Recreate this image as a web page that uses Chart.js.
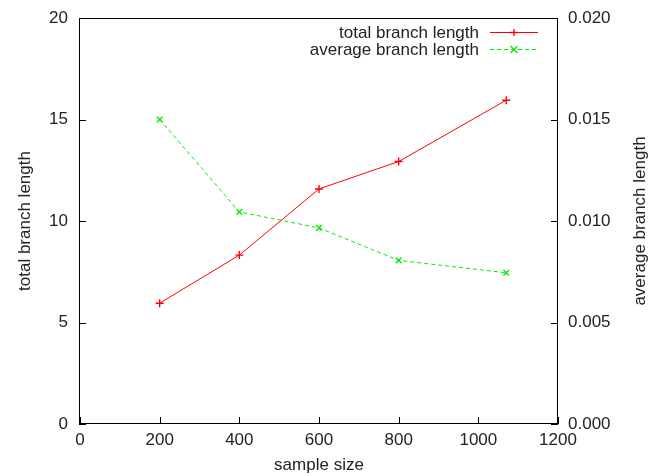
<!DOCTYPE html>
<html>
<head>
<meta charset="utf-8">
<script src="https://cdn.jsdelivr.net/npm/chart.js@4.4.1/dist/chart.umd.min.js"></script>
<style>
  body { margin: 0; background: #fff; }
  #box { position: relative; width: 650px; height: 476px; }
  #box canvas { position: absolute; left: 0; top: 0; }
  #frame { pointer-events: none; }
</style>
</head>
<body>
<div id="box">
  <canvas id="chart" width="650" height="476"></canvas>
  <canvas id="frame" width="650" height="476"></canvas>
</div>
<script>
// ===== data =====
const sampleSizes = [200, 400, 600, 800, 1070];
const totalLength = [5.95, 8.32, 11.58, 12.93, 15.95];
const avgLength = [0.0150, 0.01045, 0.00966, 0.00806, 0.00745];

const seriesNames = ['total branch length', 'average branch length'];
const seriesColors = ['#ff0000', '#00ee00'];

const xTicks = [0, 200, 400, 600, 800, 1000, 1200];
const yLeftTicks = [0, 5, 10, 15, 20];
const yRightTicks = [0, 0.005, 0.010, 0.015, 0.020];

const FONT = "'Liberation Sans', Arial, Helvetica, sans-serif";
const TEXT = '#222';
const tickFont = { family: FONT, size: 17 };

// ===== small drawing helpers =====
function marker(ctx, style, x, y, r) {
  ctx.beginPath();
  if (style === 'cross') {
    ctx.moveTo(x - r, y); ctx.lineTo(x + r, y);
    ctx.moveTo(x, y - r); ctx.lineTo(x, y + r);
  } else {
    ctx.moveTo(x - r, y - r); ctx.lineTo(x + r, y + r);
    ctx.moveTo(x - r, y + r); ctx.lineTo(x + r, y - r);
  }
  ctx.stroke();
}

// no padding from the scales: chart area is set by layout + afterFit
function noPad(s) {
  s.paddingTop = 0; s.paddingBottom = 0; s.paddingLeft = 0; s.paddingRight = 0;
}

// gnuplot style box with inward ticks, placed by the scales
function drawBox(ctx, scales) {
  const l = Math.round(scales.x.getPixelForValue(xTicks[0]));
  const r = Math.round(scales.x.getPixelForValue(xTicks[xTicks.length - 1]));
  const t = Math.round(scales.y.getPixelForValue(yLeftTicks[yLeftTicks.length - 1]));
  const b = Math.round(scales.y.getPixelForValue(yLeftTicks[0]));
  ctx.save();
  ctx.globalAlpha = 1;
  ctx.globalCompositeOperation = 'source-over';
  ctx.fillStyle = '#000';
  ctx.fillRect(l - 1, t, r - l + 1, 1);
  ctx.fillRect(l - 1, b - 1, r - l + 1, 1);
  ctx.fillRect(l - 1, t, 1, b - t);
  ctx.fillRect(r - 1, t, 1, b - t);
  yLeftTicks.forEach(v => {
    ctx.fillRect(l - 1, Math.round(scales.y.getPixelForValue(v)), 7, 1);
  });
  yRightTicks.forEach(v => {
    ctx.fillRect(r - 7, Math.round(scales.y2.getPixelForValue(v)), 7, 1);
  });
  xTicks.forEach(v => {
    ctx.fillRect(Math.round(scales.x.getPixelForValue(v)), b - 7, 1, 7);
  });
  ctx.restore();
}

new Chart(document.getElementById('chart'), {
  type: 'line',
  data: {
    datasets: [{
      label: seriesNames[0],
      data: sampleSizes.map((x, i) => ({ x: x, y: totalLength[i] })),
      yAxisID: 'y',
      borderColor: seriesColors[0],
      borderWidth: 1,
      pointStyle: 'cross',
      pointRadius: 4,
      pointBorderWidth: 1.4
    }, {
      label: seriesNames[1],
      data: sampleSizes.map((x, i) => ({ x: x, y: avgLength[i] })),
      yAxisID: 'y2',
      borderColor: seriesColors[1],
      borderWidth: 1,
      borderDash: [4, 3],
      pointStyle: 'crossRot',
      pointRadius: 4,
      pointBorderWidth: 1.4
    }]
  },
  options: {
    responsive: false,
    animation: false,
    layout: { padding: { top: 18 } },
    plugins: { legend: { display: false }, tooltip: { enabled: false } },
    scales: {
      x: {
        type: 'linear', min: 0, max: 1200,
        afterBuildTicks: s => { s.ticks = xTicks.map(v => ({ value: v })); },
        afterFit: s => { s.height = 52; noPad(s); },
        grid: { display: false, drawTicks: false }, border: { display: false },
        ticks: { font: tickFont, color: TEXT, padding: 6, maxRotation: 0, autoSkip: false, callback: v => String(v) },
        title: { display: true, text: 'sample size', font: tickFont, color: TEXT, padding: { top: 0, bottom: 0 } }
      },
      y: {
        position: 'left', min: 0, max: 20,
        afterBuildTicks: s => { s.ticks = yLeftTicks.map(v => ({ value: v })); },
        afterFit: s => { s.width = 80; noPad(s); },
        grid: { display: false, drawTicks: false }, border: { display: false },
        ticks: { font: tickFont, color: TEXT, padding: 12, callback: v => String(v) },
        title: { display: true, text: 'total branch length', font: tickFont, color: TEXT, padding: { top: 15, bottom: 0 } }
      },
      y2: {
        position: 'right', min: 0, max: 0.02,
        afterBuildTicks: s => { s.ticks = yRightTicks.map(v => ({ value: v })); },
        afterFit: s => { s.width = 92; noPad(s); },
        grid: { display: false, drawTicks: false }, border: { display: false },
        ticks: { font: tickFont, color: TEXT, padding: 10, callback: v => v.toFixed(3) }
      }
    }
  },
  plugins: [{
    id: 'gnuplotLook',
    afterDraw(chart) {
      const { ctx, chartArea: a, scales } = chart;
      ctx.save();

      // right axis title, reading bottom to top
      ctx.font = '17px ' + FONT;
      ctx.fillStyle = TEXT;
      ctx.textAlign = 'center';
      ctx.textBaseline = 'middle';
      ctx.save();
      ctx.translate(640, (a.top + a.bottom) / 2);
      ctx.rotate(-Math.PI / 2);
      ctx.fillText('average branch length', 0, 0);
      ctx.restore();

      // legend, top right inside the box
      const rows = [32, 49];
      const styles = ['cross', 'crossRot'];
      const dashes = [[], [4, 3]];
      ctx.textAlign = 'right';
      seriesNames.forEach((name, i) => {
        const y = rows[i];
        ctx.fillStyle = TEXT;
        ctx.fillText(name, 479, y + 1);
        ctx.strokeStyle = seriesColors[i];
        ctx.lineWidth = 1;
        ctx.setLineDash(dashes[i]);
        ctx.beginPath();
        ctx.moveTo(490, y + 0.5); ctx.lineTo(538, y + 0.5);
        ctx.stroke();
        ctx.setLineDash([]);
        ctx.lineWidth = 1.3;
        marker(ctx, styles[i], 514, y + 0.5, 3.5);
      });
      ctx.restore();

      drawBox(ctx, scales);
    },
    afterRender(chart) {
      // same box on a transparent canvas laid over the chart
      const over = document.getElementById('frame').getContext('2d');
      over.clearRect(0, 0, 650, 476);
      drawBox(over, chart.scales);
    }
  }]
});
</script>
</body>
</html>
